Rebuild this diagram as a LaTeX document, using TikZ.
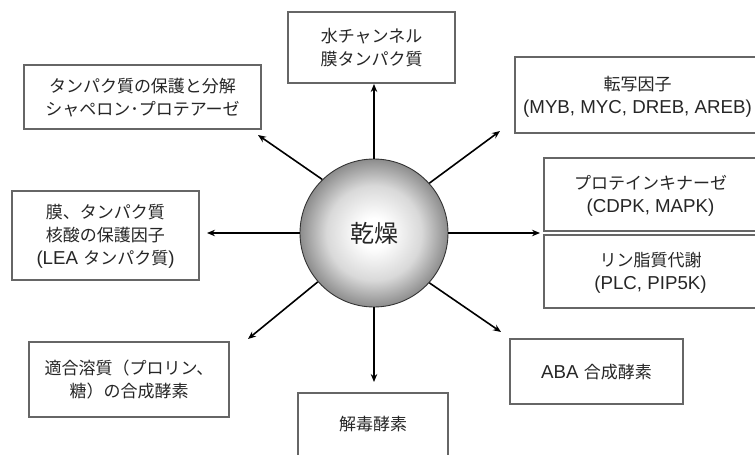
\documentclass[tikz,border=0pt]{standalone}
\usepackage{fontspec}
\setmainfont{Liberation Sans}
\newfontfamily\jp{Noto Sans CJK JP}
\newfontfamily\latf{Liberation Sans}
\newcommand\la[1]{{\latf\fontsize{18.7}{23}\selectfont #1}}
\usetikzlibrary{arrows.meta}
\pgfdeclareradialshading{myball}{\pgfpoint{0bp}{0bp}}{color(0bp)=(white); color(5bp)=(white); color(16bp)=(black!15); color(25bp)=(black!45); color(50bp)=(black!45)}
\begin{document}
\begin{tikzpicture}[x=1pt,y=-1pt,
  boxst/.style={draw=black!60, line width=1.1pt, fill=white, align=center, inner sep=0pt,
    font={\jp\fontsize{17}{23}\selectfont}, text=black!85},
  onel/.style={text height=15pt, text depth=0.8pt},
  twol/.style={text height=37pt, text depth=0.8pt},
  threel/.style={text height=58pt, text depth=0.8pt},
  arr/.style={line width=1.6pt, -{Stealth[length=8pt,width=6.5pt]}}]
\useasboundingbox (0,0) rectangle (755,455);
\clip (0,0) rectangle (755,455);

% boxes
\node[boxst, twol, minimum width=167pt, minimum height=71pt] (water) at (371.5,47.5) {水チャンネル\\膜タンパク質};
\node[boxst, twol, minimum width=237pt, minimum height=64pt] (prot) at (142.5,97) {タンパク質の保護と分解\\シャペロン･プロテアーゼ};
\node[boxst, threel, minimum width=187pt, minimum height=89pt] (lea) at (105.5,235.5) {膜、タンパク質\\核酸の保護因子\\\la{(LEA }タンパク質\la{)}};
\node[boxst, twol, minimum width=200pt, minimum height=75pt] (osm) at (129,379.5) {適合溶質（プロリン、\\糖）の合成酵素};
\node[boxst, text height=2pt, text depth=0.8pt, minimum width=150pt, minimum height=74pt] (detox) at (373,430) {解毒酵素};
\node[boxst, onel, minimum width=173pt, minimum height=65pt] (aba) at (596.5,371.5) {\la{ABA }合成酵素};
\node[boxst, twol, minimum width=245pt, minimum height=76pt] (tf) at (637.5,95) {転写因子\\\la{(MYB, MYC, DREB, AREB)}};
\node[boxst, twol, minimum width=213pt, minimum height=73pt] (pk) at (650.5,194.5) {プロテインキナーゼ\\\la{(CDPK, MAPK)}};
\node[boxst, twol, minimum width=213pt, minimum height=73pt] (pl) at (650.5,271.5) {リン脂質代謝\\\la{(PLC, PIP5K)}};

% centre
\node[circle, minimum size=148pt, inner sep=0pt, draw=black!80, line width=0.9pt, shading=myball,
  font={\jp\fontsize{24}{24}\selectfont}, text=black!85] (dry) at (374,233) {乾燥};

% arrow tips
\coordinate (tUp) at (374,84);
\coordinate (tUL) at (258,135);
\coordinate (tL) at (207,233);
\coordinate (tDL) at (248,339);
\coordinate (tD) at (374,382);
\coordinate (tDR) at (501,332);
\coordinate (tR) at (540,233);
\coordinate (tUR) at (500,131);

\draw[arr] (dry.90) -- (tUp);
\draw[arr] (dry.134) -- (tUL);
\draw[arr] (dry.180) -- (tL);
\draw[arr] (dry.221) -- (tDL);
\draw[arr] (dry.270) -- (tD);
\draw[arr] (dry.318) -- (tDR);
\draw[arr] (dry.0) -- (tR);
\draw[arr] (dry.42) -- (tUR);
\end{tikzpicture}
\end{document}
